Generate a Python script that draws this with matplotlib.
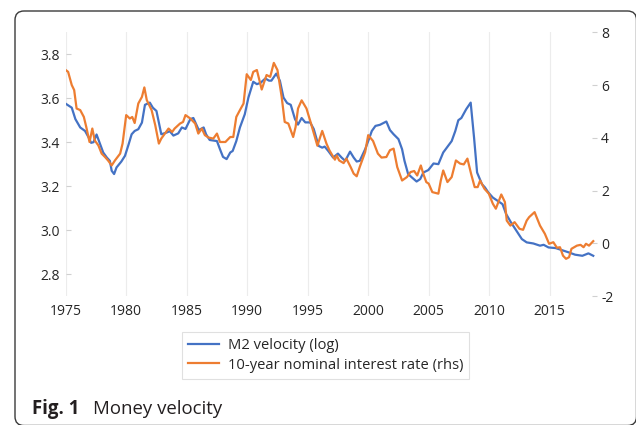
import matplotlib
matplotlib.use("Agg")
import matplotlib.pyplot as plt
from matplotlib.patches import FancyBboxPatch
from matplotlib.lines import Line2D

plt.rcParams['font.family'] = ['Open Sans', 'DejaVu Sans']

# ---------------- data ----------------
m2_years = [1975.0, 1975.5, 1975.8, 1976.2, 1976.6, 1976.9, 1977.1, 1977.3, 1977.55, 1977.85,
            1978.1, 1978.4, 1978.65, 1978.8, 1979.0, 1979.2, 1979.6, 1979.9, 1980.2, 1980.45,
            1980.7, 1981.0, 1981.3, 1981.55, 1981.95, 1982.2, 1982.5, 1982.9, 1983.35, 1983.6,
            1983.9, 1984.3, 1984.6, 1984.9, 1985.3, 1985.55, 1985.8, 1986.0, 1986.4, 1986.6,
            1986.9, 1987.5, 1987.75, 1988.0, 1988.3, 1988.6, 1988.8, 1989.1, 1989.4, 1989.8,
            1990.1, 1990.5, 1990.8, 1991.1, 1991.5, 1991.8, 1992.0, 1992.4, 1992.7, 1993.0,
            1993.3, 1993.6, 1993.95, 1994.2, 1994.5, 1994.8, 1995.2, 1995.5, 1995.9, 1996.2,
            1996.4, 1996.7, 1997.1, 1997.5, 1997.8, 1998.1, 1998.5, 1998.8, 1999.05, 1999.3,
            1999.75, 2000.0, 2000.3, 2000.6, 2000.97, 2001.5, 2001.8, 2002.1, 2002.5, 2002.8,
            2003.0, 2003.3, 2003.6, 2004.0, 2004.3, 2004.56, 2004.97, 2005.4, 2005.8, 2006.2,
            2006.6, 2006.9, 2007.2, 2007.45, 2007.7, 2008.1, 2008.47, 2008.75, 2009.0, 2009.4,
            2009.65, 2009.93, 2010.3, 2010.7, 2011.1, 2011.4, 2011.8, 2012.25, 2012.7, 2013.1,
            2013.65, 2014.2, 2014.5, 2014.9, 2015.5, 2016.0, 2016.6, 2017.1, 2017.7, 2018.2,
            2018.6]
m2_velocity = [3.575, 3.557, 3.505, 3.467, 3.451, 3.421, 3.397, 3.400, 3.435, 3.390,
               3.353, 3.330, 3.315, 3.270, 3.255, 3.285, 3.312, 3.338, 3.390, 3.436,
               3.451, 3.459, 3.489, 3.570, 3.580, 3.557, 3.542, 3.436, 3.444, 3.450,
               3.430, 3.440, 3.467, 3.460, 3.505, 3.510, 3.480, 3.455, 3.467, 3.436,
               3.410, 3.405, 3.368, 3.333, 3.323, 3.353, 3.360, 3.405, 3.467, 3.527,
               3.603, 3.675, 3.664, 3.670, 3.690, 3.680, 3.680, 3.712, 3.680, 3.603,
               3.578, 3.570, 3.505, 3.480, 3.510, 3.490, 3.490, 3.460, 3.383, 3.375,
               3.380, 3.360, 3.330, 3.348, 3.330, 3.315, 3.357, 3.330, 3.312, 3.315,
               3.368, 3.405, 3.451, 3.474, 3.479, 3.494, 3.455, 3.436, 3.414, 3.368,
               3.315, 3.255, 3.240, 3.221, 3.232, 3.262, 3.273, 3.303, 3.300, 3.353,
               3.383, 3.405, 3.451, 3.500, 3.510, 3.550, 3.580, 3.420, 3.262, 3.209,
               3.194, 3.171, 3.148, 3.133, 3.118, 3.073, 3.035, 2.997, 2.959, 2.944,
               2.939, 2.929, 2.933, 2.921, 2.918, 2.909, 2.898, 2.888, 2.883, 2.894,
               2.883]

rate_years = [1975.0, 1975.2, 1975.5, 1975.7, 1975.9, 1976.2, 1976.5, 1976.7, 1976.97, 1977.2,
              1977.4, 1977.7, 1977.97, 1978.25, 1978.5, 1978.8, 1979.07, 1979.5, 1979.7, 1980.0,
              1980.3, 1980.5, 1980.7, 1981.0, 1981.3, 1981.5, 1981.7, 1982.1, 1982.4, 1982.7,
              1982.9, 1983.2, 1983.5, 1983.8, 1984.0, 1984.45, 1984.7, 1984.9, 1985.3, 1985.7,
              1985.96, 1986.25, 1986.5, 1986.8, 1987.2, 1987.5, 1987.75, 1988.2, 1988.6, 1988.85,
              1989.1, 1989.4, 1989.7, 1989.96, 1990.3, 1990.5, 1990.8, 1991.2, 1991.6, 1991.9,
              1992.2, 1992.5, 1992.85, 1993.1, 1993.4, 1993.8, 1994.0, 1994.2, 1994.5, 1994.9,
              1995.3, 1995.8, 1996.2, 1996.55, 1996.8, 1997.25, 1997.4, 1997.6, 1997.97, 1998.2,
              1998.55, 1998.8, 1999.05, 1999.3, 1999.75, 2000.0, 2000.4, 2000.8, 2001.1, 2001.5,
              2001.8, 2002.1, 2002.4, 2002.8, 2003.2, 2003.5, 2003.8, 2004.05, 2004.35, 2004.55,
              2004.8, 2005.0, 2005.3, 2005.8, 2006.0, 2006.2, 2006.55, 2006.9, 2007.25, 2007.6,
              2007.9, 2008.2, 2008.5, 2008.8, 2009.05, 2009.25, 2009.6, 2009.97, 2010.3, 2010.55,
              2011.0, 2011.3, 2011.45, 2011.75, 2012.1, 2012.5, 2012.8, 2013.1, 2013.3, 2013.75,
              2014.2, 2014.6, 2014.95, 2015.3, 2015.6, 2015.85, 2016.1, 2016.35, 2016.6, 2016.8,
              2017.25, 2017.55, 2017.8, 2018.0, 2018.25, 2018.6]
rate_10y = [6.57, 6.50, 6.00, 5.81, 5.11, 5.05, 4.79, 4.41, 3.84, 4.35,
            3.90, 3.71, 3.40, 3.27, 3.14, 2.95, 3.14, 3.40, 3.78, 4.86,
            4.73, 4.79, 4.56, 5.30, 5.55, 5.91, 5.43, 5.05, 4.48, 3.78,
            3.97, 4.16, 4.35, 4.22, 4.35, 4.54, 4.60, 4.86, 4.73, 4.54,
            4.16, 4.35, 4.10, 4.01, 3.97, 4.16, 3.84, 3.84, 4.03, 4.03,
            4.79, 5.05, 5.30, 6.41, 6.19, 6.50, 6.57, 5.83, 6.38, 6.31,
            6.84, 6.57, 5.55, 4.60, 4.54, 4.03, 4.41, 5.11, 5.42, 5.11,
            4.50, 3.70, 4.26, 3.78, 3.52, 3.17, 3.33, 3.14, 3.04, 3.21,
            2.89, 2.64, 2.54, 2.89, 3.46, 4.10, 3.88, 3.40, 3.25, 3.27,
            3.53, 3.59, 2.89, 2.38, 2.51, 2.70, 2.74, 2.57, 2.95, 2.64,
            2.32, 2.26, 1.94, 1.88, 2.38, 2.76, 2.32, 2.51, 3.14, 3.02,
            2.99, 3.21, 2.64, 2.13, 2.13, 2.38, 2.07, 1.88, 1.50, 1.31,
            1.85, 1.56, 0.86, 0.67, 0.80, 0.55, 0.51, 0.86, 0.99, 1.18,
            0.67, 0.36, -0.02, 0.04, -0.17, -0.15, -0.47, -0.59, -0.53, -0.21,
            -0.09, -0.06, -0.15, -0.02, -0.09, 0.08]

x_ticks = [1975, 1980, 1985, 1990, 1995, 2000, 2005, 2010, 2015]
left_ticks = [2.8, 3.0, 3.2, 3.4, 3.6, 3.8]
right_ticks = [-2, 0, 2, 4, 6, 8]
label_m2 = "M2 velocity (log)"
label_rate = "10-year nominal interest rate (rhs)"
caption_bold = "Fig. 1"
caption_text = "Money velocity"

# ---------------- figure ----------------
W, H = 636, 425
fig = plt.figure(figsize=(W / 100, H / 100), dpi=100)

blue = "#4472C4"
orange = "#ED7D31"
tick_col = "#262626"

# frame (rounded border, running off the right and bottom edges)
frame = FancyBboxPatch((15, -0.5), 621.5, 414.5, boxstyle="round,pad=0,rounding_size=9",
                       transform=None, fill=False, edgecolor="#3a3a3a", linewidth=1.0)
fig.patches.append(frame)

left_px, right_px, top_px, bottom_px = 65.7, 597, 32.3, 296
ax = fig.add_axes([left_px / W, 1 - bottom_px / H, (right_px - left_px) / W, (bottom_px - top_px) / H])
ax.patch.set_alpha(0)
ax2 = ax.twinx()

ax.plot(m2_years, m2_velocity, color=blue, lw=1.6, solid_joinstyle="round")
ax2.plot(rate_years, rate_10y, color=orange, lw=1.6, solid_joinstyle="round")

ax.set_xlim(1975, 2018.91)
ax.set_ylim(2.7, 3.9)
ax2.set_ylim(-2, 8)

ax.set_xticks(x_ticks)
ax.set_xticklabels([str(t) for t in x_ticks])
ax.set_yticks(left_ticks)
ax.set_yticklabels([f"{t:.1f}" for t in left_ticks])
ax2.set_yticks(right_ticks)
ax2.set_yticklabels([str(t) for t in right_ticks])

for a in (ax, ax2):
    for s in a.spines.values():
        s.set_visible(False)

ax.grid(axis="x", color="#ececec", lw=0.8)
ax.set_axisbelow(True)
ax.tick_params(axis="x", length=0, pad=6, labelsize=10, labelcolor=tick_col)
ax.tick_params(axis="y", direction="in", length=3.5, width=0.8, color="#d0d0d0",
               pad=4, labelsize=10, labelcolor=tick_col)
ax2.tick_params(axis="y", direction="in", length=3.5, width=0.8, color="#d0d0d0",
                pad=3, labelsize=10, labelcolor=tick_col)

handles = [Line2D([], [], color=blue, lw=1.6), Line2D([], [], color=orange, lw=1.6)]
leg = fig.legend(handles, [label_m2, label_rate], loc="upper left",
                 bbox_to_anchor=(181.7 / W, 1 - 332.3 / H), bbox_transform=fig.transFigure,
                 borderaxespad=0, frameon=True, fancybox=False, fontsize=10.6,
                 handlelength=2.1, handletextpad=0.6, labelspacing=0.28, borderpad=0.42)
leg.get_frame().set_edgecolor("#d9d9d9")
leg.get_frame().set_linewidth(0.8)
for t in leg.get_texts():
    t.set_color(tick_col)

fig.text(31.7 / W, 1 - 414 / H, caption_bold, fontsize=13.4, weight="bold",
         color="#231f20", va="baseline", ha="left")
fig.text(92.7 / W, 1 - 414 / H, caption_text, fontsize=13.4,
         color="#231f20", va="baseline", ha="left")

fig.savefig("out.png", dpi=100)
